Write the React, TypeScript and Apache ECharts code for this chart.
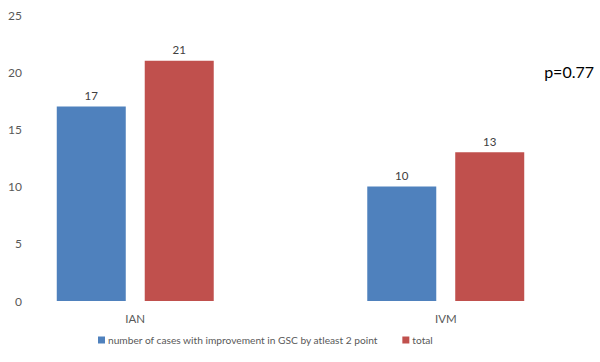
import React, { useEffect, useRef } from "react";
import * as echarts from "echarts";

const categories = ["IAN", "IVM"];
const improvedValues = [17, 10];
const totalValues = [21, 13];
const seriesNames = ["number of cases with improvement in GSC by atleast 2 point", "total"];
const annotation = "p=0.77";

export default function App() {
  const ref = useRef<HTMLDivElement>(null);
  useEffect(() => {
    if (!ref.current) return;
    const chart = echarts.init(ref.current, null, { renderer: "svg" });
    const font = "Lato, 'Open Sans', sans-serif";
    chart.setOption({
      animation: false,
      textStyle: { fontFamily: font },
      grid: { left: 0, right: 0, top: 15, bottom: 61, containLabel: false },
      legend: {
        bottom: 17,
        left: 118,
        padding: 0,
        itemWidth: 7,
        itemHeight: 7,
        itemGap: 24,
        icon: "rect",
        textStyle: { fontSize: 10.2, color: "#595959", fontFamily: font, padding: [0, 0, 0, -2] },
        data: seriesNames,
      },
      xAxis: {
        type: "category",
        data: categories,
        axisLine: { show: false },
        axisTick: { show: false },
        axisLabel: { color: "#595959", fontSize: 11.5, margin: 11, fontFamily: font },
      },
      yAxis: {
        type: "value",
        min: 0,
        max: 25,
        interval: 5,
        offset: -42,
        axisLine: { show: false },
        axisTick: { show: false },
        splitLine: { show: false },
        axisLabel: { color: "#595959", fontSize: 12, margin: 0, fontFamily: font },
      },
      graphic: [
        {
          type: "text",
          right: 7,
          top: 63,
          style: { text: annotation, fontSize: 16, fill: "#000", fontFamily: font },
        },
      ],
      series: [
        {
          name: seriesNames[0],
          type: "bar",
          data: improvedValues,
          barWidth: 69,
          barGap: "27.5%",
          itemStyle: { color: "#4F81BD" },
          label: { show: true, position: "top", distance: 5, color: "#404040", fontSize: 11.5, fontFamily: font },
        },
        {
          name: seriesNames[1],
          type: "bar",
          data: totalValues,
          barWidth: 69,
          itemStyle: { color: "#C0504D" },
          label: { show: true, position: "top", distance: 5, color: "#404040", fontSize: 11.5, fontFamily: font },
        },
      ],
    });
    return () => chart.dispose();
  }, []);
  return <div ref={ref} style={{ width: 621, height: 362, position: "absolute", left: -20, top: 0 }} />;
}
